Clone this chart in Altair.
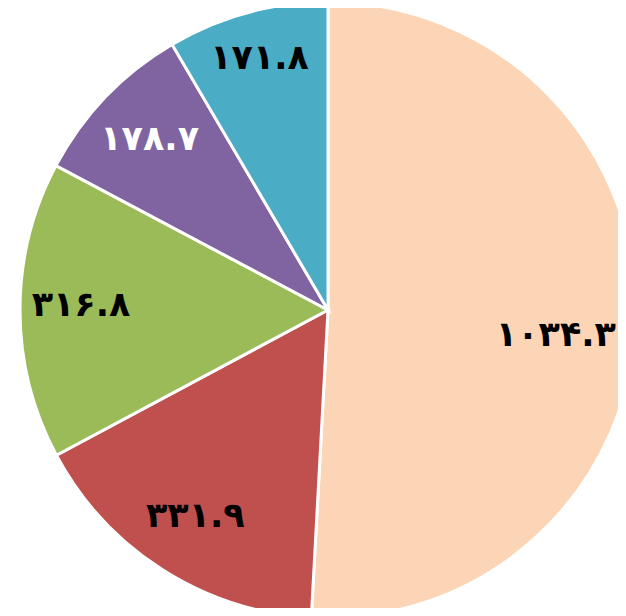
import altair as alt
import pandas as pd

categories = ["A", "B", "C", "D", "E"]
values = [1034.3, 331.9, 316.8, 178.7, 171.8]
slice_colors = ["#FBD5B5", "#C0504D", "#9BBB59", "#8064A2", "#4BACC6"]
label_colors = ["#000000", "#000000", "#000000", "#FFFFFF", "#000000"]

persian = str.maketrans("0123456789", "۰۱۲۳۴۵۶۷۸۹")
labels = [f"{v:.1f}".translate(persian) for v in values]

df = pd.DataFrame({
    "cat": categories,
    "value": values,
    "label": labels,
    "order": list(range(len(values))),
})

W, H = 610, 600
CX, CY = 320, 302
R = 308

base = alt.Chart(df).encode(
    theta=alt.Theta("value:Q", stack=True),
    order=alt.Order("order:Q"),
    x=alt.value(CX),
    y=alt.value(CY),
)

pie = base.mark_arc(outerRadius=R, stroke="white", strokeWidth=3).encode(
    color=alt.Color("cat:N", scale=alt.Scale(domain=categories, range=slice_colors), legend=None)
)

label_radius = "datum.cat === 'A' ? 228 : (datum.cat === 'E' ? 261 : 247)"
label_dy = "datum.cat === 'A' ? 19 : (datum.cat === 'B' ? -2 : (datum.cat === 'C' ? -5 : 0))"

text = base.mark_text(
    radius=alt.expr(label_radius), dy=alt.expr(label_dy),
    font="DejaVu Sans", fontSize=35, fontWeight="bold",
).encode(
    text="label:N",
    color=alt.Color("cat:N", scale=alt.Scale(domain=categories, range=label_colors), legend=None),
)

chart = alt.layer(pie, text).resolve_scale(color="independent").properties(
    width=W, height=H, padding=0, autosize=alt.AutoSizeParams(type="none")
).configure_view(stroke=None)

chart.save("out.html", embed_options={"renderer": "svg", "actions": False})
